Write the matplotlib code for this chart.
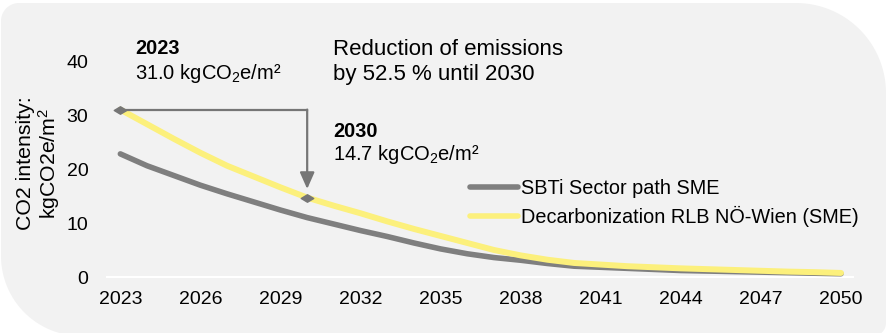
import numpy as np
import matplotlib
matplotlib.use("Agg")
import matplotlib.pyplot as plt
from matplotlib.path import Path
from matplotlib.patches import PathPatch
from matplotlib.transforms import Affine2D

# data
years = list(range(2023, 2051))
sbti = [22.8, 20.6, 18.8, 17.0, 15.4, 13.9, 12.4, 11.0, 9.8, 8.6, 7.5, 6.3, 5.2, 4.3,
        3.6, 3.1, 2.5, 2.0, 1.8, 1.6, 1.4, 1.2, 1.1, 1.0, 0.9, 0.8, 0.7, 0.6]
rlb = [31.0, 28.3, 25.6, 23.0, 20.6, 18.6, 16.6, 14.7, 13.2, 11.8, 10.3, 8.9, 7.6, 6.3,
       5.0, 4.0, 3.2, 2.6, 2.3, 2.0, 1.8, 1.6, 1.45, 1.3, 1.15, 1.0, 0.9, 0.75]
series_names = ["SBTi Sector path SME", "Decarbonization RLB NÖ-Wien (SME)"]
xticks = list(range(2023, 2051, 3))
yticks = [0, 10, 20, 30, 40]
start_year, start_val = 2023, 31.0
end_year, end_val = 2030, 14.7
reduction = 52.5

plt.rcParams["font.family"] = ["Liberation Sans", "DejaVu Sans"]
plt.rcParams["mathtext.fontset"] = "custom"
plt.rcParams["mathtext.rm"] = "Liberation Sans"
plt.rcParams["mathtext.it"] = "Liberation Sans:italic"
plt.rcParams["mathtext.bf"] = "Liberation Sans:bold"

W, H = 888, 333
fig = plt.figure(figsize=(W / 100, H / 100), dpi=100)
fig.patch.set_facecolor("white")

# rounded background panel (pixel coords, y up)
def corner(cx, cy, r, a0, a1):
    t = np.linspace(np.radians(a0), np.radians(a1), 30)
    return list(zip(cx + r * np.cos(t), cy + r * np.sin(t)))

x0, x1, y0, y1 = 1, 886, -3, H - 3
r_tl, r_tr, r_bl, r_br = 18, 90, 80, 13
pts = []
pts += corner(x0 + r_tl, y1 - r_tl, r_tl, 180, 90)
pts += corner(x1 - r_tr, y1 - r_tr, r_tr, 90, 0)
pts += corner(x1 - r_br, y0 + r_br, r_br, 0, -90)
pts += corner(x0 + r_bl, y0 + r_bl, r_bl, 270, 180)
pts.append(pts[0])
panel = PathPatch(Path(pts, closed=True), facecolor="#f2f2f2", edgecolor="none",
                  transform=Affine2D().scale(1 / W, 1 / H) + fig.transFigure, zorder=-10)
fig.patches.append(panel)

ax = fig.add_axes([107 / W, 1 - 277 / H, (853 - 107) / W, (277 - 61) / H])
ax.set_facecolor("none")
ax.set_zorder(1)

grey = "#7f7f7f"
yellow = "#fcf07c"
ax.plot(years, sbti, color=grey, lw=4.0, solid_capstyle="round", label=series_names[0], zorder=3)
ax.plot(years, rlb, color=yellow, lw=4.3, solid_capstyle="round", label=series_names[1], zorder=4)

# flat diamond markers and the arrow between them
diamond = Path([(-1, 0), (0, 0.6), (1, 0), (0, -0.6), (-1, 0)], closed=True)
ax.plot([start_year, end_year], [start_val, end_val], ls="none", marker=diamond,
        ms=9, color="#767676", zorder=6)
ax.plot([start_year, end_year], [start_val, start_val], color="#767676", lw=1.6, zorder=5)
ax.annotate("", xy=(end_year, end_val + 1.6), xytext=(end_year, start_val),
            arrowprops=dict(arrowstyle="-|>,head_length=0.5,head_width=0.22",
                            mutation_scale=20, color="#767676", lw=1.6,
                            shrinkA=0, shrinkB=0), zorder=5)

ax.set_xlim(2022.5, 2050.45)
ax.set_ylim(0, 40)
ax.set_xticks(xticks)
ax.set_yticks(yticks)
ax.tick_params(length=0, labelsize=14)
ax.tick_params(axis="y", pad=13.5)
ax.tick_params(axis="x", pad=10)
for s in ["top", "right", "left"]:
    ax.spines[s].set_visible(False)
ax.spines["bottom"].set_color("white")
ax.spines["bottom"].set_linewidth(1.5)
ax.spines["bottom"].set_zorder(2)

fig.text(39 / W, 1 - 163 / H, "CO2 intensity:\nkgCO2e/m$^2$", rotation=90,
         ha="center", va="center", fontsize=15.3, linespacing=1.1)

def px(x, y):
    return x / W, 1 - y / H

fig.text(*px(135, 54), str(start_year), fontsize=14.3, fontweight="bold", va="baseline")
fig.text(*px(135, 79), "%.1f kgCO$_2$e/m²" % start_val, fontsize=14.5, va="baseline")
fig.text(*px(333, 55), "Reduction of emissions", fontsize=16, va="baseline")
fig.text(*px(333, 80), "by %.1f %% until %d" % (reduction, end_year), fontsize=16, va="baseline")
fig.text(*px(333, 137), str(end_year), fontsize=14.3, fontweight="bold", va="baseline")
fig.text(*px(333, 160), "%.1f kgCO$_2$e/m²" % end_val, fontsize=14.5, va="baseline")

leg = fig.legend(loc="center left", bbox_to_anchor=(470 / W, 1 - 203 / H), frameon=False,
                 fontsize=14.3, handlelength=2.4, handletextpad=0.15, labelspacing=0.4,
                 borderpad=0, borderaxespad=0)
for h in leg.get_lines():
    h.set_linewidth(4.0)

fig.savefig("out.png", dpi=100)
